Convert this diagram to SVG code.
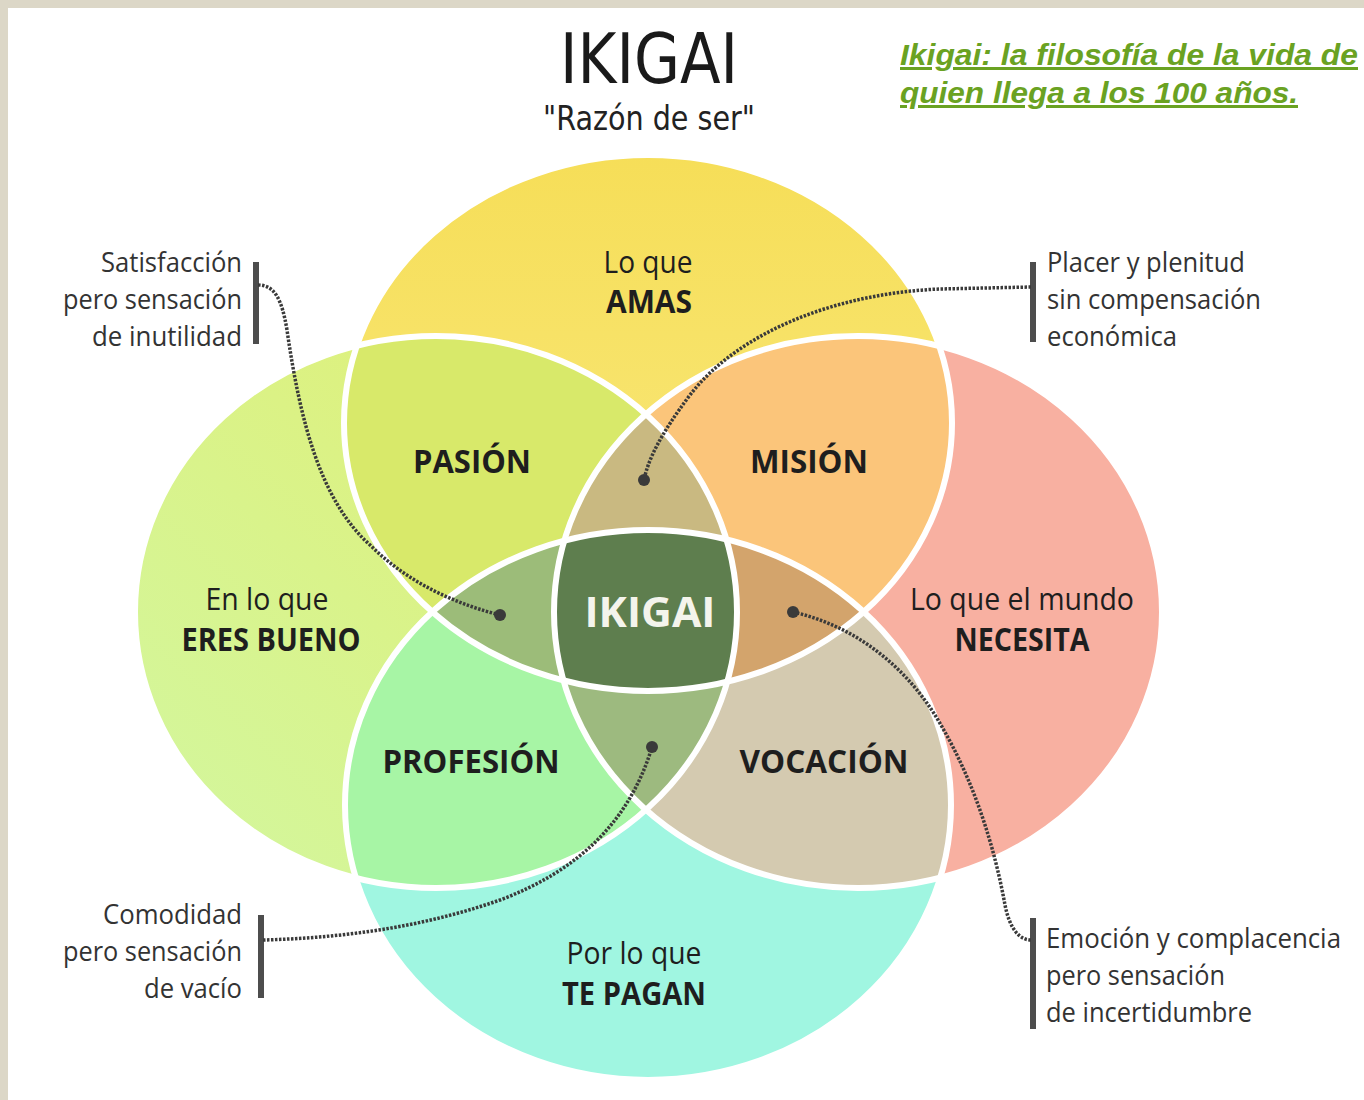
<svg xmlns="http://www.w3.org/2000/svg" width="1364" height="1100" viewBox="0 0 1364 1100">
<defs>
<clipPath id="cT"><ellipse cx="648" cy="423" rx="304" ry="268"/></clipPath>
<clipPath id="cL"><ellipse cx="436" cy="612" rx="301" ry="276"/></clipPath>
<clipPath id="cR"><ellipse cx="858" cy="612" rx="304" ry="276"/></clipPath>
<clipPath id="cB"><ellipse cx="648" cy="805" rx="303" ry="275"/></clipPath>
<linearGradient id="gT" x1="0" y1="0" x2="0" y2="1"><stop offset="0" stop-color="#f6de58"/><stop offset="1" stop-color="#f9ea82"/></linearGradient>
<linearGradient id="gL" x1="0" y1="1" x2="1" y2="0"><stop offset="0" stop-color="#d2f7a0"/><stop offset="1" stop-color="#e2ee70"/></linearGradient>
<style>
.lab{font-family:"Open Sans","Noto Sans","DejaVu Sans",sans-serif;font-size:31px;fill:#1e1e1e;text-anchor:middle}
.b{font-weight:bold;font-size:32px}
.ann{font-family:"Open Sans","Noto Sans","DejaVu Sans",sans-serif;font-size:28px;fill:#333}
.end{text-anchor:end}
.conn{fill:none;stroke:#3a3a3a;stroke-width:3.5;stroke-dasharray:2.5 1.5}
.dot{fill:#3a3a3a}
.bar{fill:#4d4d4d}
.edge{fill:none;stroke:#ffffff;stroke-width:6}
.link{font-family:"Liberation Sans",Arial,sans-serif;font-weight:bold;font-style:italic;font-size:30px;fill:#6aa222;text-decoration:underline}
</style>
</defs>
<rect x="0" y="0" width="1364" height="1100" fill="#dcd7c7"/>
<rect x="8" y="8" width="1356" height="1092" fill="#ffffff"/>

<g id="regions">
<ellipse cx="648" cy="423" rx="304" ry="268" fill="url(#gT)"/>
<ellipse cx="436" cy="612" rx="301" ry="276" fill="url(#gL)"/>
<ellipse cx="858" cy="612" rx="304" ry="276" fill="#f8b0a1"/>
<ellipse cx="648" cy="805" rx="303" ry="275" fill="#a0f6e1"/>
<ellipse cx="436" cy="612" rx="301" ry="276" fill="#d8e96a" clip-path="url(#cT)"/>
<ellipse cx="858" cy="612" rx="304" ry="276" fill="#fbc57a" clip-path="url(#cT)"/>
<ellipse cx="648" cy="805" rx="303" ry="275" fill="#a7f5a5" clip-path="url(#cL)"/>
<ellipse cx="648" cy="805" rx="303" ry="275" fill="#d4cab0" clip-path="url(#cR)"/>
<g clip-path="url(#cT)"><ellipse cx="858" cy="612" rx="304" ry="276" fill="#c9b981" clip-path="url(#cL)"/></g>
<g clip-path="url(#cB)"><ellipse cx="858" cy="612" rx="304" ry="276" fill="#9dba7f" clip-path="url(#cL)"/></g>
<g clip-path="url(#cT)"><ellipse cx="648" cy="805" rx="303" ry="275" fill="#9cbc79" clip-path="url(#cL)"/></g>
<g clip-path="url(#cT)"><ellipse cx="648" cy="805" rx="303" ry="275" fill="#d3a46c" clip-path="url(#cR)"/></g>
<g clip-path="url(#cT)"><g clip-path="url(#cB)"><ellipse cx="858" cy="612" rx="304" ry="276" fill="#5e7e4e" clip-path="url(#cL)"/></g></g>
</g>
<g id="outlines">
<ellipse class="edge" cx="648" cy="423" rx="304" ry="268"/>
<ellipse class="edge" cx="436" cy="612" rx="301" ry="276"/>
<ellipse class="edge" cx="858" cy="612" rx="304" ry="276"/>
<ellipse class="edge" cx="648" cy="805" rx="303" ry="275"/>
</g>

<g id="title">
<text x="649" y="83" font-family="DejaVu Sans, sans-serif" font-size="70" fill="#1a1a1a" text-anchor="middle" textLength="178" lengthAdjust="spacingAndGlyphs">IKIGAI</text>
<text x="649" y="130" font-family="DejaVu Sans, sans-serif" font-size="34" fill="#222" text-anchor="middle" textLength="212" lengthAdjust="spacingAndGlyphs">"Razón de ser"</text>
</g>
<g id="link">
<text class="link" x="900" y="65" textLength="458" lengthAdjust="spacingAndGlyphs">Ikigai: la filosofía de la vida de</text>
<text class="link" x="900" y="103" textLength="398" lengthAdjust="spacingAndGlyphs">quien llega a los 100 años.</text>
</g>

<g id="node-amas"><text class="lab" x="648" y="273" textLength="89" lengthAdjust="spacingAndGlyphs">Lo que</text><text class="lab b" x="649" y="313" textLength="86" lengthAdjust="spacingAndGlyphs">AMAS</text></g>
<g id="node-eres-bueno"><text class="lab" x="267" y="610" textLength="123" lengthAdjust="spacingAndGlyphs">En lo que</text><text class="lab b" x="271" y="651" textLength="179" lengthAdjust="spacingAndGlyphs">ERES BUENO</text></g>
<g id="node-necesita"><text class="lab" x="1022" y="610" textLength="224" lengthAdjust="spacingAndGlyphs">Lo que el mundo</text><text class="lab b" x="1022" y="651" textLength="135" lengthAdjust="spacingAndGlyphs">NECESITA</text></g>
<g id="node-te-pagan"><text class="lab" x="634" y="964" textLength="135" lengthAdjust="spacingAndGlyphs">Por lo que</text><text class="lab b" x="634" y="1005" textLength="144" lengthAdjust="spacingAndGlyphs">TE PAGAN</text></g>
<g id="node-pasion"><text class="lab b" x="472" y="473" textLength="118" lengthAdjust="spacingAndGlyphs">PASIÓN</text></g>
<g id="node-mision"><text class="lab b" x="809" y="473" textLength="118" lengthAdjust="spacingAndGlyphs">MISIÓN</text></g>
<g id="node-profesion"><text class="lab b" x="471" y="773" textLength="177" lengthAdjust="spacingAndGlyphs">PROFESIÓN</text></g>
<g id="node-vocacion"><text class="lab b" x="824" y="773" textLength="169" lengthAdjust="spacingAndGlyphs">VOCACIÓN</text></g>
<g id="node-ikigai"><text class="lab b" x="650" y="627" style="fill:#f4f4ec;font-size:42px" textLength="131" lengthAdjust="spacingAndGlyphs">IKIGAI</text></g>

<g id="note-satisfaccion">
<rect class="bar" x="253" y="262" width="6" height="82"/>
<text class="ann end" x="242" y="272" textLength="141" lengthAdjust="spacingAndGlyphs">Satisfacción</text>
<text class="ann end" x="242" y="309" textLength="179" lengthAdjust="spacingAndGlyphs">pero sensación</text>
<text class="ann end" x="242" y="346" textLength="150" lengthAdjust="spacingAndGlyphs">de inutilidad</text>
</g>
<g id="note-placer">
<rect class="bar" x="1030" y="262" width="6" height="80"/>
<text class="ann" x="1047" y="272" textLength="198" lengthAdjust="spacingAndGlyphs">Placer y plenitud</text>
<text class="ann" x="1047" y="309" textLength="214" lengthAdjust="spacingAndGlyphs">sin compensación</text>
<text class="ann" x="1047" y="346" textLength="130" lengthAdjust="spacingAndGlyphs">económica</text>
</g>
<g id="note-comodidad">
<rect class="bar" x="258" y="915" width="6" height="83"/>
<text class="ann end" x="242" y="924" textLength="139" lengthAdjust="spacingAndGlyphs">Comodidad</text>
<text class="ann end" x="242" y="961" textLength="179" lengthAdjust="spacingAndGlyphs">pero sensación</text>
<text class="ann end" x="242" y="998" textLength="98" lengthAdjust="spacingAndGlyphs">de vacío</text>
</g>
<g id="note-emocion">
<rect class="bar" x="1030" y="918" width="6" height="111"/>
<text class="ann" x="1046" y="948" textLength="295" lengthAdjust="spacingAndGlyphs">Emoción y complacencia</text>
<text class="ann" x="1046" y="985" textLength="179" lengthAdjust="spacingAndGlyphs">pero sensación</text>
<text class="ann" x="1046" y="1022" textLength="206" lengthAdjust="spacingAndGlyphs">de incertidumbre</text>
</g>

<g id="connectors">
<path class="conn" d="M258,285 C275,285 282,300 287,330 C300,420 320,500 370,545 C410,585 460,605 500,615"/>
<circle class="dot" cx="500" cy="615" r="6"/>
<path class="conn" d="M1031,287 L940,289 C840,293 740,330 690,395 C660,435 648,460 644,480"/>
<circle class="dot" cx="644" cy="480" r="6"/>
<path class="conn" d="M263,940 C340,938 420,928 500,900 C580,870 630,820 652,747"/>
<circle class="dot" cx="652" cy="747" r="6"/>
<path class="conn" d="M793,612 C850,625 900,660 935,715 C975,780 995,850 1005,905 C1010,930 1020,940 1031,940"/>
<circle class="dot" cx="793" cy="612" r="6"/>
</g>
</svg>
